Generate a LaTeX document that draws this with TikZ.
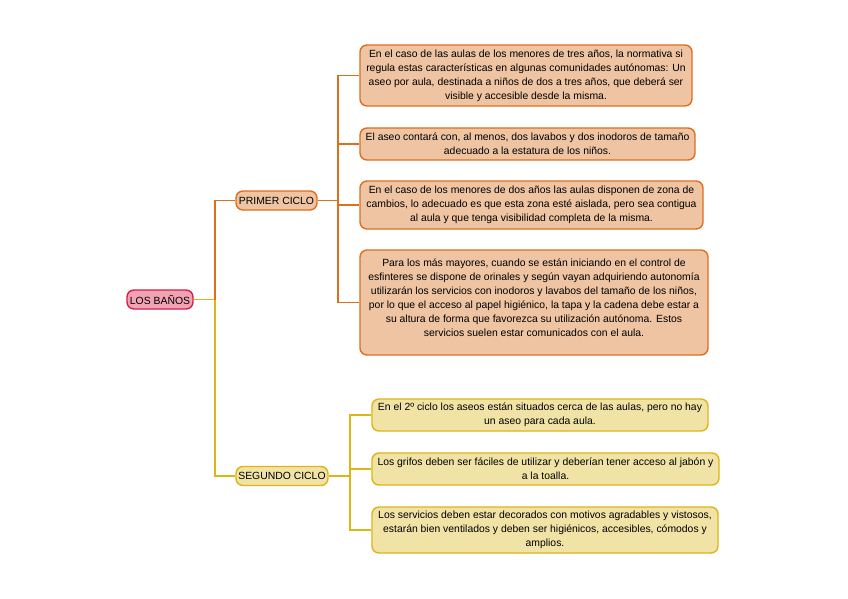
\documentclass[tikz,border=0pt]{standalone}
\usepackage{fontspec}
\setmainfont{Liberation Sans}
\begin{document}
\begin{tikzpicture}[x=1pt,y=-1pt,
  font=\fontsize{10.4}{14}\selectfont,
  base/.style={draw, line width=1.4pt, rounded corners=7pt, align=center, inner sep=1pt, anchor=center},
  rootbox/.style={base, fill=rootfill, draw=rootline},
  obox/.style={base, fill=ofill, draw=oline},
  ybox/.style={base, fill=yfill, draw=yline},
  oedge/.style={draw=oline, line width=1.8pt},
  yedge/.style={draw=yline, line width=1.8pt}]
\definecolor{rootfill}{HTML}{F2A3B3}
\definecolor{rootline}{HTML}{D51F48}
\definecolor{ofill}{HTML}{EFC4A2}
\definecolor{oline}{HTML}{DE6F1F}
\definecolor{yfill}{HTML}{F1E3A6}
\definecolor{yline}{HTML}{DDB515}
\useasboundingbox (0,0) rectangle (848,599);
\fill[white] (0,0) rectangle (848,599);

\node[rootbox, minimum width=66pt, minimum height=19pt] (root) at (160,299.5) {LOS BAÑOS};
\node[obox, minimum width=81pt, minimum height=19pt] (p1) at (276.5,200.5) {PRIMER CICLO};
\node[ybox, minimum width=92pt, minimum height=19pt] (p2) at (282,476) {SEGUNDO CICLO};

\node[obox, minimum width=332pt, minimum height=61pt] (a1) at (526,75.5) {En el caso de las aulas de los menores de tres años, la normativa si\\regula estas características en algunas comunidades autónomas: Un\\aseo por aula, destinada a niños de dos a tres años, que deberá ser\\visible y accesible desde la misma.};
\node[obox, minimum width=335pt, minimum height=32pt] (a2) at (527.5,144) {El aseo contará con, al menos, dos lavabos y dos inodoros de tamaño\\adecuado a la estatura de los niños.};
\node[obox, minimum width=343pt, minimum height=48pt] (a3) at (531.5,205) {En el caso de los menores de dos años las aulas disponen de zona de\\cambios, lo adecuado es que esta zona esté aislada, pero sea contigua\\al aula y que tenga visibilidad completa de la misma.};
\node[obox, minimum width=348pt, minimum height=105pt, text depth=0pt] (a4) at (534,302.5) {Para los más mayores, cuando se están iniciando en el control de\\esfinteres se dispone de orinales y según vayan adquiriendo autonomía\\utilizarán los servicios con inodoros y lavabos del tamaño de los niños,\\por lo que el acceso al papel higiénico, la tapa y la cadena debe estar a\\su altura de forma que favorezca su utilización autónoma. Estos\\servicios suelen estar comunicados con el aula.\\[-4pt]};

\node[ybox, minimum width=336pt, minimum height=32pt] (b1) at (540,415) {En el 2º ciclo los aseos están situados cerca de las aulas, pero no hay\\un aseo para cada aula.};
\node[ybox, minimum width=347pt, minimum height=32pt] (b2) at (545.5,469) {Los grifos deben ser fáciles de utilizar y deberían tener acceso al jabón y\\a la toalla.};
\node[ybox, minimum width=346pt, minimum height=46pt] (b3) at (545,530) {Los servicios deben estar decorados con motivos agradables y vistosos,\\estarán bien ventilados y deben ser higiénicos, accesibles, cómodos y\\amplios.};

\coordinate (r0) at (215,299.5);
\draw[yedge] (root.east) -- (r0);
\draw[oedge] (r0) |- (p1.west);
\draw[yedge] (r0) |- (p2.west);

\coordinate (o0) at (338,200.5);
\draw[oedge] (p1.east) -- (o0);
\foreach \n in {a1,a2,a3,a4} \draw[oedge] (o0) |- (\n.west);

\coordinate (y0) at (350,476);
\draw[yedge] (p2.east) -- (y0);
\foreach \n in {b1,b2,b3} \draw[yedge] (y0) |- (\n.west);
\end{tikzpicture}
\end{document}
